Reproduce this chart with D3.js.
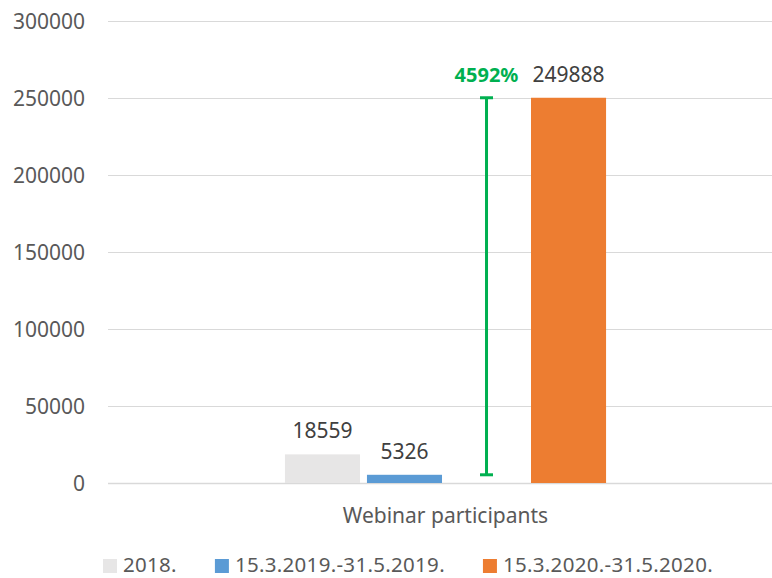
<!DOCTYPE html>
<html>
<head>
<meta charset="utf-8">
<script src="https://cdn.jsdelivr.net/npm/d3@7"></script>
<style>
  body { margin: 0; background: #fff; }
  svg { display: block; font-family: "Noto Sans", sans-serif; }
</style>
</head>
<body>
<script>
// chart data
var categories = ["Webinar participants"];
var seriesNames = ["2018.", "15.3.2019.-31.5.2019.", "15.3.2020.-31.5.2020."];
var seriesValues = [18559, 5326, 249888];
var seriesColors = ["#E7E6E6", "#5B9BD5", "#ED7D31"];
var yTicks = [0, 50000, 100000, 150000, 200000, 250000, 300000];

var width = 772, height = 578;
var plotLeft = 108, plotRight = 783; // plot area runs past the right edge in the original
var plotTop = 20.5, plotBottom = 483;

var svg = d3.select("body").append("svg").attr("width", width).attr("height", height);

var y = d3.scaleLinear().domain([0, 300000]).range([plotBottom, plotTop]);

// one category band, 4 slots inside it (3rd slot holds the change marker)
var x0 = d3.scaleBand().domain(categories).range([plotLeft, plotRight]).paddingInner(0).paddingOuter(0.551);
var slots = ["s0", "s1", "change", "s2"];
var x1 = d3.scaleBand().domain(slots).range([0, x0.bandwidth()]).paddingInner(0.085);

// gridlines + tick labels
var yAxis = d3.axisLeft(y).tickValues(yTicks).tickFormat(d3.format("d")).tickSize(0).tickPadding(0);
var gy = svg.append("g").attr("transform", "translate(85,0)").call(yAxis);
gy.select(".domain").remove();
gy.selectAll("text").attr("fill", "#595959").attr("font-size", "21px")
  .attr("font-family", "Noto Sans").attr("dy", "0.36em");

svg.append("g").selectAll("line").data(yTicks).enter().append("line")
  .attr("x1", plotLeft).attr("x2", plotRight)
  .attr("y1", function(d) { return Math.round(y(d)) + 0.5; })
  .attr("y2", function(d) { return Math.round(y(d)) + 0.5; })
  .attr("stroke", "#D9D9D9").attr("stroke-width", function(d) { return d == 0 ? 1.5 : 1.2; });

// bars
var bars = seriesValues.map(function(v, i) {
  return { name: seriesNames[i], value: v, slot: i < 2 ? slots[i] : "s2", color: seriesColors[i] };
});
var cat = categories[0];
var barG = svg.append("g").attr("transform", "translate(" + x0(cat) + ",0)");

barG.selectAll("rect").data(bars).enter().append("rect")
  .attr("x", function(d) { return x1(d.slot); })
  .attr("y", function(d) { return y(d.value); })
  .attr("width", x1.bandwidth())
  .attr("height", function(d) { return y(0) - y(d.value); })
  .attr("fill", function(d) { return d.color; });

barG.selectAll("text.val").data(bars).enter().append("text")
  .attr("class", "val")
  .attr("x", function(d) { return x1(d.slot) + x1.bandwidth() / 2; })
  .attr("y", function(d) { return y(d.value) - 16; })
  .attr("text-anchor", "middle")
  .attr("font-size", "21px")
  .attr("fill", "#404040")
  .text(function(d) { return d.value; });

// change marker between the 2019 and 2020 values
var lo = seriesValues[1], hi = seriesValues[2];
var pct = Math.round((hi - lo) / lo * 100);
var cx = x1("change") + x1.bandwidth() / 2;
var green = "#00B050";
barG.append("line").attr("x1", cx).attr("x2", cx).attr("y1", y(hi)).attr("y2", y(lo))
  .attr("stroke", green).attr("stroke-width", 3);
[hi, lo].forEach(function(v) {
  barG.append("line").attr("x1", cx - 6.5).attr("x2", cx + 6.5).attr("y1", y(v)).attr("y2", y(v))
    .attr("stroke", green).attr("stroke-width", 3);
});
barG.append("text").attr("x", cx).attr("y", y(hi) - 16)
  .attr("text-anchor", "middle").attr("font-size", "20px").attr("font-weight", "bold")
  .attr("fill", green).text(pct + "%");

// category label
svg.append("text").attr("x", x0(cat) + x0.bandwidth() / 2).attr("y", 523)
  .attr("text-anchor", "middle").attr("font-size", "21px").attr("fill", "#595959")
  .text(cat);

// legend
var legend = svg.append("g");
var lx = 103;
seriesNames.forEach(function(name, i) {
  legend.append("rect").attr("x", lx).attr("y", 559).attr("width", 14).attr("height", 14)
    .attr("fill", seriesColors[i]);
  var t = legend.append("text").attr("x", lx + 20).attr("y", 572)
    .attr("font-size", "20.5px").attr("letter-spacing", "0.3px").attr("fill", "#595959").text(name);
  lx += 20 + t.node().getComputedTextLength() + 38;
});
</script>
</body>
</html>
